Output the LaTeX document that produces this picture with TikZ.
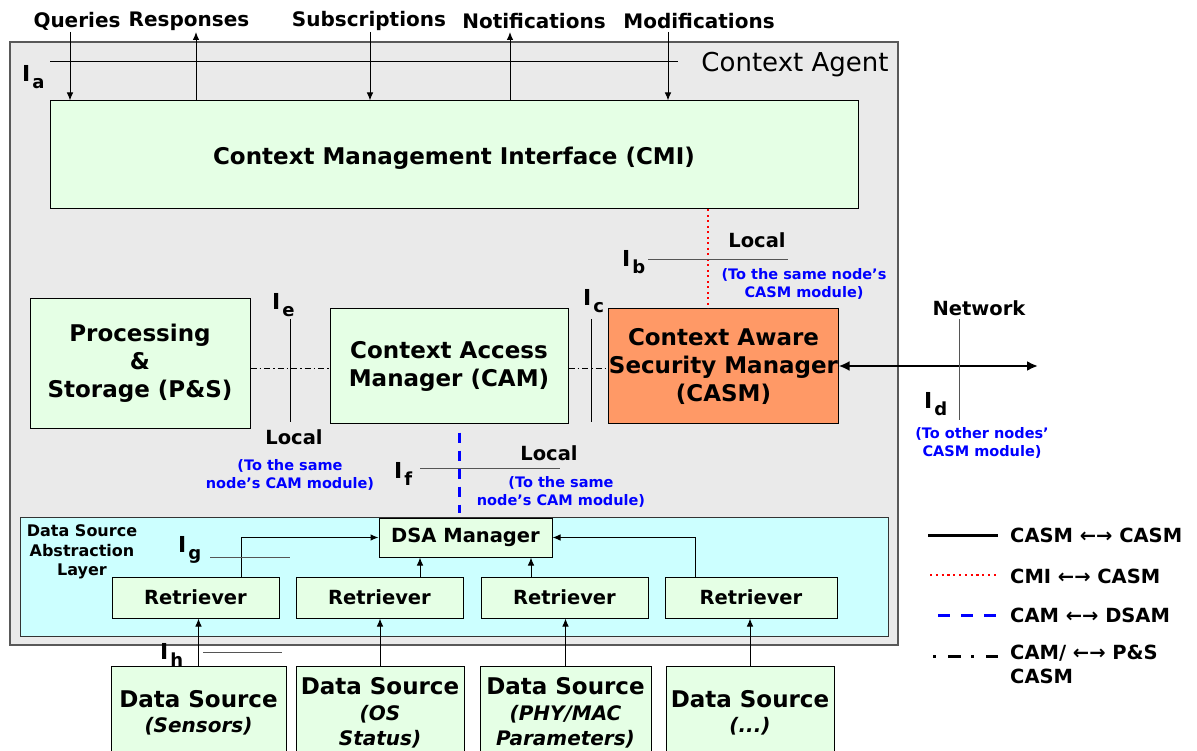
\documentclass[tikz,border=0pt]{standalone}
\usepackage{fontspec}
\setmainfont{DejaVu Sans}[BoldFont={DejaVu Sans Bold}, ItalicFont={DejaVu Sans Oblique}, BoldItalicFont={DejaVu Sans Bold Oblique}]
\usepackage{xcolor}
\usepackage{tikz}
\usetikzlibrary{calc, arrows.meta}
\definecolor{agentgray}{RGB}{234,234,234}
\definecolor{boxgreen}{RGB}{229,255,229}
\definecolor{dsalcyan}{RGB}{204,255,255}
\definecolor{casmorange}{RGB}{255,153,102}
\definecolor{notegray}{RGB}{85,85,85}

% interface label: big I with lowered letter
\newcommand{\iface}[1]{\fontsize{22}{22}\selectfont I\kern2pt\raisebox{-7pt}{\fontsize{18}{18}\selectfont #1}}
\newcommand{\dssub}[1]{\textit{\fontsize{20}{26}\selectfont #1}}

\tikzset{
  box/.style={draw=black, line width=1pt, fill=boxgreen, align=center, inner sep=0pt, font=\bfseries\fontsize{23}{28}\selectfont},
  smallbox/.style={box, font=\bfseries\fontsize{19.5}{23}\selectfont},
  dsbox/.style={box, font=\bfseries\fontsize{23}{25.5}\selectfont},
  toplabel/.style={font=\bfseries\fontsize{20}{24}\selectfont, inner sep=0pt},
  local/.style={font=\bfseries\fontsize{19.5}{23}\selectfont, inner sep=0pt},
  note/.style={text=blue, align=center, inner sep=0pt, font=\bfseries\fontsize{14.5}{18}\selectfont},
  iflabel/.style={font=\bfseries, inner sep=0pt, anchor=base west},
  ifline/.style={draw=notegray, line width=1pt},
  flow/.style={-{Latex[length=8pt,width=6.5pt]}, line width=1pt},
  legtext/.style={anchor=west, inner sep=0pt, align=left, font=\bfseries\fontsize{19.5}{24}\selectfont}
}

\begin{document}
\begin{tikzpicture}[x=1pt, y=-1pt]
\useasboundingbox (0,0) rectangle (1197,751);

% context agent frame
\draw[draw=black!65, fill=agentgray, line width=1.2pt] (10,42) rectangle (898,645);
\node[font=\fontsize{26}{30}\selectfont, inner sep=0pt] (agent) at (795,65) {Context Agent};

\node[box, minimum width=808, minimum height=108, text height=20pt, text depth=0pt] (cmi) at (454,155) {Context Management Interface (CMI)};
\node[box, minimum width=220, minimum height=129] (ps) at (140,363.5) {Processing\\\&\\Storage (P\&S)};
\node[box, minimum width=238, minimum height=114] (cam) at (449,366) {Context Access\\Manager (CAM)};
\node[box, fill=casmorange, minimum width=229, minimum height=114] (casm) at (723.5,366) {Context Aware\\Security Manager\\(CASM)};

% data source abstraction layer
\node[draw=black!80, line width=1pt, fill=dsalcyan, minimum width=868, minimum height=119, inner sep=0pt] (dsal) at (454,576.5) {};
\node[align=center, inner sep=0pt, font=\bfseries\fontsize{16}{19.5}\selectfont] (dsaltext) at (82,552) {Data Source\\Abstraction\\Layer};
\node[smallbox, minimum width=173, minimum height=39] (dsa) at (465.5,537.5) {DSA Manager};
\node[smallbox, minimum width=167, minimum height=41] (r1) at (195.5,597.5) {Retriever};
\node[smallbox, minimum width=167, minimum height=41] (r2) at (379.5,597.5) {Retriever};
\node[smallbox, minimum width=167, minimum height=41] (r3) at (564.5,597.5) {Retriever};
\node[smallbox, minimum width=172, minimum height=41] (r4) at (751,597.5) {Retriever};

\node[dsbox, minimum width=175, minimum height=94] (ds1) at (198.5,713) {Data Source\\\dssub{(Sensors)}};
\node[dsbox, minimum width=168, minimum height=94] (ds2) at (380,713) {Data Source\\\dssub{(OS}\\\dssub{Status)}};
\node[dsbox, minimum width=171, minimum height=94] (ds3) at (565.5,713) {Data Source\\\dssub{(PHY/MAC}\\\dssub{Parameters)}};
\node[dsbox, minimum width=168, minimum height=94] (ds4) at (750,713) {Data Source\\\dssub{(...)}};

% requests and answers at the top
\node[toplabel] (lqry) at (77,21) {Queries};
\node[toplabel] (lrsp) at (189,21) {Responses};
\node[toplabel] (lsub) at (369,21) {Subscriptions};
\node[toplabel] (lntf) at (534,21) {Notifications};
\node[toplabel] (lmod) at (699,21) {Modifications};
\foreach \name/\xx in {qry/70, sub/370, mod/668}
  \coordinate (\name) at (\xx,32);
\foreach \name/\xx in {rsp/196, ntf/510}
  \coordinate (\name) at (\xx,32);
\foreach \name in {qry, sub, mod}
  \draw[flow] (\name) -- (\name |- cmi.north);
\foreach \name in {rsp, ntf}
  \draw[flow] (\name |- cmi.north) -- (\name);

% I_a
\draw[ifline, draw=black] (50,62) -- (678,62);
\node[iflabel] (ia) at (22,82) {\iface{a}};

% CMI - CASM
\coordinate (cb) at (708,0);
\draw[red, line width=2pt, dash pattern=on 2pt off 3.5pt] (cb |- cmi.south) -- (cb |- casm.north);
\draw[ifline] (648,260) -- (788,260);
\node[iflabel] (ib) at (622,267) {\iface{b}};
\node[local] (locb) at (757,240) {Local};
\node[note] (noteb) at (804,284) {(To the same node’s\\CASM module)};

% CAM - P&S and CAM - CASM
\coordinate (dd) at (0,368);
\draw[line width=0.8pt, dash pattern=on 6pt off 3pt on 1.5pt off 3pt] (dd -| ps.east) -- (dd -| cam.west);
\draw[line width=0.8pt, dash pattern=on 6pt off 3pt on 1.5pt off 3pt] (dd -| cam.east) -- (dd -| casm.west);
\draw[ifline, draw=black] (290,319) -- (290,422);
\node[iflabel] (ie) at (272,310) {\iface{e}};
\node[local] (loce) at (294,437) {Local};
\node[note] (notee) at (290,475) {(To the same\\node’s CAM module)};
\draw[ifline, draw=black] (591,319) -- (591,422);
\node[iflabel] (ic) at (583,306) {\iface{c}};

% CASM - CASM over the network
\coordinate (netend) at (1038,0);
\draw[{Latex[length=11pt,width=10pt]}-{Latex[length=11pt,width=10pt]}, line width=2.5pt] (casm.east) -- (casm.east -| netend);
\draw[ifline] (959,319) -- (959,420);
\node[local] (net) at (979,308) {Network};
\node[iflabel] (id) at (924,408) {\iface{d}};
\node[note] (noted) at (982,443) {(To other nodes’\\CASM module)};

% CAM - DSA manager
\coordinate (cd) at (459,0);
\draw[blue, line width=3pt, dash pattern=on 10pt off 8pt, shorten <=9pt, shorten >=5pt] (cd |- cam.south) -- (cd |- dsa.north);
\draw[ifline] (420,468) -- (560,468);
\node[iflabel] (if) at (394,478) {\iface{f}};
\node[local] (locf) at (549,453) {Local};
\node[note] (notef) at (561,492) {(To the same\\node’s CAM module)};

% retrievers to DSA manager
\coordinate (u1) at (241,0);
\coordinate (u2) at (420,0);
\coordinate (u3) at (531,0);
\coordinate (u4) at (695,0);
\draw[flow] (u1 |- r1.north) |- (dsa.west);
\draw[flow] (u2 |- r2.north) -- (u2 |- dsa.south);
\draw[flow] (u3 |- r3.north) -- (u3 |- dsa.south);
\draw[flow] (u4 |- r4.north) |- (dsa.east);
\draw[ifline] (210,557) -- (290,557);
\node[iflabel] (ig) at (178,552) {\iface{g}};

% data sources to retrievers
\foreach \i in {1,...,4}
  \draw[flow] (ds\i.north) -- (ds\i.north |- r\i.south);
\draw[ifline] (203,652) -- (282,652);
\node[iflabel] (ih) at (160,659) {\iface{h}};

% legend
\draw[line width=3pt] (928,535) -- (998,535);
\draw[red, line width=2.2pt, dash pattern=on 2.2pt off 3.6pt] (930,575) -- (998,575);
\draw[blue, line width=3pt, dash pattern=on 12pt off 11pt] (938,615) -- (998,615);
\draw[line width=3pt, dash pattern=on 3pt off 12pt on 13pt off 10pt] (933,656) -- (998,656);
\node[legtext] (leg1) at (1010,535) {CASM ←→ CASM};
\node[legtext] (leg2) at (1010,576) {CMI ←→ CASM};
\node[legtext] (leg3) at (1010,615) {CAM ←→ DSAM};
\node[legtext, anchor=north west] (leg4) at (1010,645) {CAM/ ←→ P\&S\\CASM};
\end{tikzpicture}
\end{document}
